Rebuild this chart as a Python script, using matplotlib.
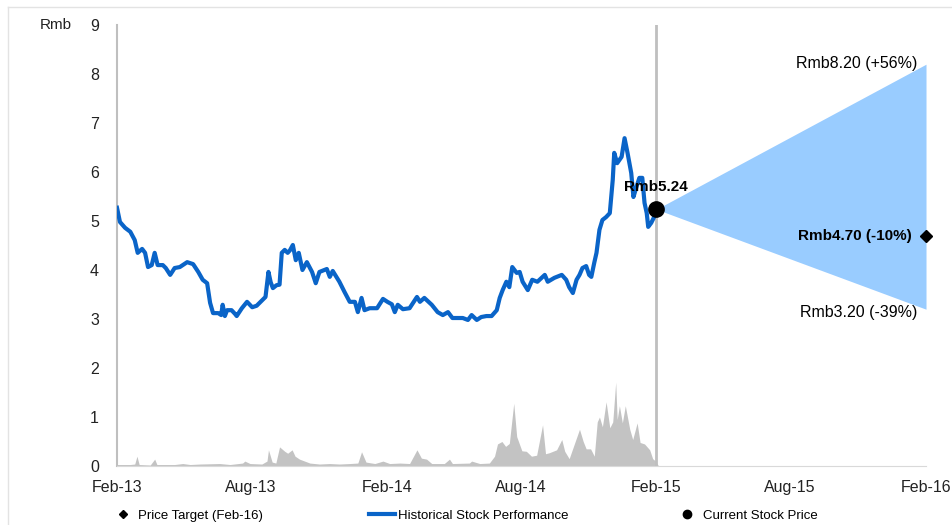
import numpy as np
import matplotlib
matplotlib.use("Agg")
import matplotlib.pyplot as plt
from matplotlib.lines import Line2D

plt.rcParams['font.family'] = ['Liberation Sans', 'DejaVu Sans']

start = np.datetime64('2013-02-01')

# share price, days after 1 Feb 2013 -> Rmb
price_day = [0, 4, 11, 18, 24, 28, 34, 38, 42, 47, 51, 55, 62, 66, 72, 78, 85, 95,
             103, 110, 116, 122, 126, 130, 137, 141, 143, 146, 149, 155, 160, 162,
             169, 176, 183, 189, 197, 201, 205, 208, 211, 216, 220, 223, 227, 231,
             234, 238, 242, 246, 251, 257, 264, 269, 274, 284, 288, 292, 301, 308,
             315, 322, 326, 331, 335, 342, 352, 360, 366, 372, 376, 380, 387, 396,
             406, 410, 416, 426, 434, 441, 448, 454, 460, 468, 475, 480, 487, 493,
             500, 507, 514, 518, 522, 527, 531, 535, 541, 545, 549, 556, 562, 569,
             579, 583, 592, 602, 608, 612, 617, 622, 626, 630, 635, 639, 642, 646,
             649, 653, 657, 662, 667, 671, 673, 677, 683, 687, 691, 696, 699, 703,
             707, 711, 714, 717, 719, 723, 727, 730]
price = [5.27, 4.98, 4.86, 4.78, 4.61, 4.35, 4.43, 4.35, 4.06, 4.10, 4.35, 4.10, 4.10,
         4.04, 3.90, 4.04, 4.06, 4.16, 4.12, 3.96, 3.80, 3.73, 3.33, 3.12, 3.12, 3.08,
         3.29, 3.06, 3.18, 3.18, 3.10, 3.06, 3.22, 3.35, 3.24, 3.27, 3.39, 3.45, 3.96,
         3.75, 3.63, 3.69, 3.70, 4.35, 4.41, 4.35, 4.40, 4.51, 4.20, 4.35, 4.00, 4.16,
         3.96, 3.73, 3.96, 4.02, 3.86, 3.98, 3.76, 3.55, 3.35, 3.35, 3.14, 3.43, 3.18,
         3.22, 3.22, 3.41, 3.35, 3.30, 3.14, 3.29, 3.20, 3.22, 3.45, 3.35, 3.43, 3.29,
         3.14, 3.08, 3.14, 3.02, 3.02, 3.02, 2.98, 3.08, 2.98, 3.04, 3.06, 3.06, 3.18,
         3.43, 3.59, 3.76, 3.65, 4.06, 3.94, 3.96, 3.76, 3.59, 3.80, 3.76, 3.90, 3.76,
         3.84, 3.90, 3.80, 3.65, 3.53, 3.80, 3.90, 4.04, 4.08, 3.90, 3.86, 4.15, 4.35,
         4.82, 5.02, 5.08, 5.16, 5.84, 6.39, 6.18, 6.31, 6.69, 6.39, 5.98, 5.49, 5.69,
         5.88, 5.88, 5.37, 5.16, 4.88, 4.96, 5.08, 5.24]

# traded volume, same day axis
vol_day = [0, 18, 24, 27, 30, 45, 51, 54, 78, 89, 99, 112, 139, 153, 170, 173, 180,
           196, 203, 205, 210, 215, 220, 227, 231, 237, 241, 247, 254, 261, 274, 288,
           301, 315, 326, 331, 337, 349, 360, 369, 383, 396, 406, 412, 419, 426, 443,
           450, 454, 477, 480, 491, 504, 511, 515, 521, 526, 531, 537, 541, 548, 554,
           561, 568, 576, 580, 585, 595, 602, 606, 612, 619, 626, 631, 635, 641, 646,
           650, 653, 657, 662, 667, 671, 675, 677, 680, 684, 688, 694, 698, 704, 708,
           714, 721, 725, 729, 733]
volume = [0.03, 0.03, 0.04, 0.20, 0.03, 0.02, 0.14, 0.03, 0.03, 0.05, 0.03, 0.04, 0.05,
          0.03, 0.06, 0.10, 0.05, 0.04, 0.10, 0.33, 0.08, 0.06, 0.39, 0.30, 0.26, 0.33,
          0.20, 0.14, 0.10, 0.06, 0.04, 0.05, 0.04, 0.05, 0.06, 0.29, 0.08, 0.05, 0.10,
          0.05, 0.06, 0.05, 0.33, 0.16, 0.14, 0.05, 0.05, 0.14, 0.05, 0.06, 0.10, 0.05,
          0.06, 0.20, 0.45, 0.50, 0.40, 0.46, 1.28, 0.60, 0.31, 0.30, 0.20, 0.22, 0.84,
          0.25, 0.27, 0.33, 0.54, 0.30, 0.15, 0.45, 0.75, 0.50, 0.35, 0.35, 0.20, 0.90,
          1.00, 0.80, 1.31, 0.78, 0.90, 1.71, 0.95, 1.23, 0.88, 1.23, 0.75, 0.54, 0.88,
          0.48, 0.45, 0.33, 0.15, 0.10, 0.00]

current_date = '2015-02-01'
target_date = '2016-02-01'
current_price = 5.24
target_price = 4.70
bull_price = 8.20
bear_price = 3.20

tick_dates = ['2013-02-01', '2013-08-01', '2014-02-01', '2014-08-01',
              '2015-02-01', '2015-08-01', '2016-02-01']
tick_labels = ['Feb-13', 'Aug-13', 'Feb-14', 'Aug-14', 'Feb-15', 'Aug-15', 'Feb-16']

px = start + np.array(price_day).astype('timedelta64[D]')
vx = start + np.array(vol_day).astype('timedelta64[D]')
cur = np.datetime64(current_date)
tgt = np.datetime64(target_date)

fig = plt.figure(figsize=(9.52, 5.25), dpi=100)
ax = fig.add_axes([0.1229, 0.1124, 0.8498, 0.84])

grey = '#BFBFBF'
ax.fill_between(vx, 0, volume, color='#C3C3C3', lw=0)
ax.plot(px, price, color='#0A64C8', lw=3, solid_joinstyle='round', zorder=3)
ax.axvline(cur, color=grey, lw=2, zorder=2)

# target range cone
ax.fill_between([cur, tgt], [current_price, bear_price], [current_price, bull_price],
                color='#99CCFF', lw=0, zorder=1)
ax.plot([cur], [current_price], 'o', color='black', ms=11, zorder=5)
ax.plot([tgt], [target_price], 'D', color='black', ms=6, zorder=5, clip_on=False)

def pct(p):
    return '{:+.0f}%'.format((p / current_price - 1) * 100)

ax.annotate('Rmb%.2f' % current_price, (cur, current_price), xytext=(0, 22),
            textcoords='offset pixels', ha='center', va='center',
            fontsize=11, fontweight='bold')
ax.annotate('Rmb%.2f (%s)' % (bull_price, pct(bull_price)), (tgt, bull_price),
            xytext=(-9, 1), textcoords='offset pixels', ha='right', va='center',
            fontsize=11.5)
ax.annotate('Rmb%.2f (%s)' % (bear_price, pct(bear_price)), (tgt, bear_price),
            xytext=(-9, -3), textcoords='offset pixels', ha='right', va='center',
            fontsize=11.5)
ax.annotate('Rmb%.2f (%s)' % (target_price, pct(target_price)), (tgt, target_price),
            xytext=(-14, 0), textcoords='offset pixels', ha='right', va='center',
            fontsize=11, fontweight='bold')

ax.set_xlim(np.datetime64(tick_dates[0]), tgt)
ax.set_ylim(0, 9)
ax.set_xticks([np.datetime64(d) for d in tick_dates])
ax.set_xticklabels(tick_labels)
ax.set_yticks(range(10))
ax.tick_params(length=0, labelsize=11.5, colors='#222222')
ax.tick_params(axis='y', pad=13)
ax.tick_params(axis='x', pad=10)
for s in ['top', 'right']:
    ax.spines[s].set_visible(False)
ax.spines['left'].set_color(grey)
ax.spines['bottom'].set_color('#D9D9D9')
ax.spines['left'].set_linewidth(1.5)
ax.annotate('Rmb', (0, 9), xycoords=('axes fraction', 'data'), xytext=(-45, 0),
            textcoords='offset pixels', ha='right', va='center', fontsize=11,
            color='#222222')

handles = [Line2D([], [], ls='none', marker='D', color='black', ms=4),
           Line2D([], [], color='#0A64C8', lw=3),
           Line2D([], [], ls='none', marker='o', color='black', ms=6)]
fig.legend(handles, ['Price Target (Feb-16)', 'Historical Stock Performance',
                     'Current Stock Price'],
           loc='center', bbox_to_anchor=(0.487, 0.018), ncol=3, frameon=False,
           fontsize=9.5, handlelength=2, handletextpad=0.2, columnspacing=8.0)

# thin frame along top and left edge
fig.add_artist(Line2D([0.0084, 1], [0.9867, 0.9867], color='#E3E3E3', lw=1))
fig.add_artist(Line2D([0.0084, 0.0084], [0, 0.9867], color='#E3E3E3', lw=1))

fig.savefig('out.png', dpi=100)
